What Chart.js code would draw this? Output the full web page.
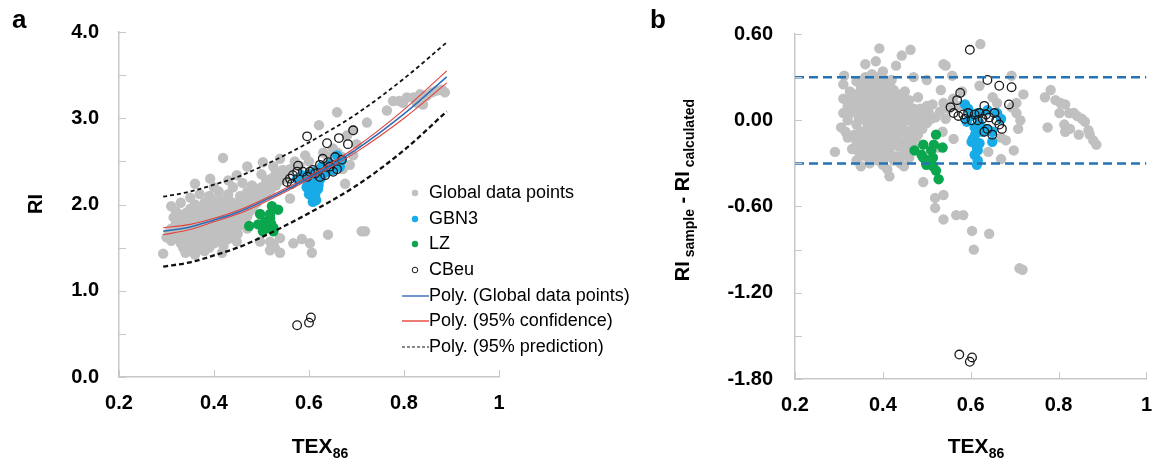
<!DOCTYPE html>
<html>
<head>
<meta charset="utf-8">
<script src="https://cdn.jsdelivr.net/npm/chart.js@4.4.0/dist/chart.umd.min.js"></script>
<style>
	body { margin: 0; background: #fff; width: 1166px; height: 463px; overflow: hidden; position: relative; font-family: "Liberation Sans", Arial, sans-serif; color: #000; }
	canvas { position: absolute; top: 0; }
	.txt { position: absolute; font-weight: bold; white-space: nowrap; line-height: 1; }
	.center { transform: translate(-50%, -50%); }
	.rot { transform: translate(-50%, -50%) rotate(-90deg); }
	.sub { font-size: 14px; vertical-align: -5px; }
	#legend { position: absolute; left: 401px; top: 180px; font-size: 18px; line-height: 25.7px; }
	#legend div { display: flex; align-items: center; height: 25.7px; }
	#legend svg { width: 28px; height: 12px; margin-right: 0; }
</style>
</head>
<body>
<canvas id="chartA" width="583" height="463" style="left:0"></canvas>
<canvas id="chartB" width="583" height="463" style="left:583px"></canvas>

<div class="txt" style="left:12px;top:6px;font-size:26px">a</div>
<div class="txt" style="left:650px;top:6px;font-size:26px">b</div>
<div class="txt rot" style="left:35px;top:204px;font-size:20px">RI</div>
<div class="txt center" style="left:320px;top:447px;font-size:21px">TEX<span class="sub">86</span></div>
<div class="txt rot" style="left:684px;top:190px;font-size:20px">RI<span class="sub"> sample</span> - RI<span class="sub"> calculated</span></div>
<div class="txt center" style="left:976px;top:447px;font-size:21px">TEX<span class="sub">86</span></div>

<div id="legend"></div>

<script>
'use strict'

// panel a : RI against TEX86
const globalA = [
	[0.293,1.43],[0.30,1.62],[0.305,1.68],[0.31,1.58],[0.31,1.72],[0.31,1.98],[0.315,1.85],[0.32,1.65],[0.32,1.78],[0.32,1.92],[0.325,1.60],[0.325,1.72],
	[0.33,1.55],[0.33,1.70],[0.33,1.85],[0.33,2.02],[0.335,1.50],[0.335,1.78],
	[0.34,1.44],[0.34,1.62],[0.34,1.75],[0.34,1.90],[0.345,1.56],[0.345,1.69],[0.345,1.83],
	[0.35,1.46],[0.35,1.58],[0.35,1.68],[0.35,1.80],[0.35,1.95],[0.35,2.08],[0.355,1.62],[0.355,1.74],[0.355,1.88],[0.356,1.46],
	[0.36,1.42],[0.36,1.52],[0.36,1.64],[0.36,1.74],[0.36,1.86],[0.36,2.00],[0.36,2.24],[0.365,1.58],[0.365,1.70],[0.365,1.80],[0.365,1.95],
	[0.37,1.48],[0.37,1.60],[0.37,1.70],[0.37,1.82],[0.37,1.93],[0.37,2.12],[0.375,1.54],[0.375,1.65],[0.375,1.77],[0.375,1.88],[0.377,1.50],
	[0.38,1.46],[0.38,1.56],[0.38,1.66],[0.38,1.76],[0.38,1.88],[0.38,2.02],[0.385,1.60],[0.385,1.71],[0.385,1.82],[0.385,1.94],
	[0.39,1.50],[0.39,1.62],[0.39,1.72],[0.39,1.84],[0.39,1.96],[0.39,2.10],[0.392,2.30],[0.395,1.58],[0.395,1.67],[0.395,1.78],[0.395,1.90],[0.395,2.02],
	[0.40,1.55],[0.40,1.68],[0.40,1.78],[0.40,1.90],[0.40,2.05],[0.40,2.20],[0.405,1.62],[0.405,1.73],[0.405,1.84],[0.405,1.96],
	[0.41,1.60],[0.41,1.74],[0.41,1.85],[0.41,1.98],[0.41,2.15],[0.415,1.68],[0.415,1.79],[0.415,1.91],[0.415,2.05],[0.417,1.44],[0.419,2.54],
	[0.42,1.52],[0.42,1.64],[0.42,1.80],[0.42,1.92],[0.42,2.04],[0.425,1.73],[0.425,1.86],[0.425,1.99],
	[0.43,1.60],[0.43,1.70],[0.43,1.84],[0.43,1.96],[0.43,2.12],[0.43,2.28],[0.435,1.76],[0.435,1.89],[0.435,2.03],
	[0.44,1.66],[0.44,1.78],[0.44,1.90],[0.44,2.02],[0.44,2.20],[0.445,1.84],[0.445,1.96],[0.448,1.57],[0.448,2.34],
	[0.45,1.66],[0.45,1.74],[0.45,1.86],[0.45,1.98],[0.455,1.80],[0.455,1.92],[0.455,2.10],
	[0.46,1.80],[0.46,1.92],[0.46,2.06],[0.46,2.25],[0.465,1.86],[0.465,1.99],[0.47,1.72],[0.47,1.86],[0.47,2.00],[0.47,2.15],[0.47,2.44],[0.475,1.92],[0.475,2.06],
	[0.48,1.95],[0.48,2.10],[0.48,2.22],[0.485,2.00],[0.49,2.02],[0.49,2.16],[0.495,2.10],[0.497,1.57],
	[0.50,2.08],[0.50,2.20],[0.50,2.35],[0.503,2.49],[0.505,2.15],[0.51,2.12],[0.51,2.28],[0.515,2.22],[0.518,1.47],[0.518,1.57],[0.52,2.18],[0.52,2.30],
	[0.525,1.54],[0.525,2.44],[0.528,1.50],[0.53,2.22],[0.53,2.36],[0.535,2.32],
	[0.539,1.44],[0.539,1.61],[0.539,2.53],[0.54,2.28],[0.545,2.40],[0.55,2.30],[0.55,2.38],[0.56,2.07],[0.56,2.41],[0.567,1.55],[0.57,2.50],[0.585,1.60],[0.58,2.45],[0.58,2.30],[0.592,2.57],[0.60,2.50],
	[0.602,1.55],[0.606,1.44],[0.62,2.40],[0.621,2.92],[0.63,2.60],[0.64,1.65],[0.64,2.45],[0.64,2.55],[0.65,2.65],[0.659,3.07],[0.66,2.50],[0.66,2.60],[0.67,2.55],[0.671,2.41],[0.676,2.24],
	[0.68,2.80],[0.686,2.46],[0.693,2.57],[0.693,2.86],[0.70,2.70],[0.711,1.69],[0.718,1.69],[0.722,2.95],
	[0.764,3.09],[0.777,3.20],[0.79,3.20],[0.798,3.18],[0.806,3.24],[0.82,3.24],[0.827,3.18],[0.834,3.28],[0.84,3.16],[0.848,3.26],[0.859,3.30],[0.869,3.32],[0.88,3.33],[0.886,3.30]
];
const gbn3A = [
	[0.575,2.30],[0.585,2.34],[0.595,2.20],[0.596,2.32],[0.598,2.26],[0.60,2.12],[0.60,2.36],[0.602,2.21],[0.605,2.28],[0.606,2.15],[0.606,2.34],[0.608,2.23],[0.608,2.03],[0.608,2.08],
	[0.613,2.11],[0.613,2.30],[0.613,2.38],[0.615,2.05],[0.617,2.26],[0.619,2.18],[0.62,2.22],[0.623,2.29],[0.627,2.44],[0.63,2.35],[0.638,2.38],[0.644,2.47],[0.65,2.40],
	[0.659,2.57],[0.665,2.44],[0.669,2.52]
];
const lzA = [
	[0.474,1.75],[0.493,1.77],[0.497,1.89],[0.503,1.69],[0.507,1.80],[0.507,1.73],[0.512,1.73],[0.518,1.84],[0.518,1.89],[0.52,1.78],[0.522,1.98],[0.525,1.73],[0.525,1.69],[0.535,1.94]
];
const cbeuA = [
	[0.554,2.26],[0.56,2.30],[0.564,2.24],[0.566,2.34],[0.575,2.38],[0.577,2.45],[0.587,2.38],[0.596,2.32],[0.602,2.38],[0.608,2.40],[0.613,2.36],[0.623,2.46],[0.623,2.32],[0.629,2.53],
	[0.634,2.34],[0.64,2.49],[0.644,2.44],[0.651,2.38],[0.655,2.55],[0.659,2.41],[0.669,2.52],[0.596,2.79],[0.638,2.71],[0.663,2.77],[0.682,2.70],[0.693,2.86],
	[0.575,0.60],[0.600,0.63],[0.604,0.69]
];

// fitted curves
const fitTex = [0.293, 0.35, 0.40, 0.45, 0.50, 0.60, 0.70, 0.80, 0.89];
const fitRI = [1.69, 1.74, 1.82, 1.91, 2.03, 2.31, 2.64, 3.05, 3.48];
const confHi = [1.73, 1.77, 1.84, 1.93, 2.05, 2.33, 2.67, 3.10, 3.55];
const confLo = [1.65, 1.71, 1.80, 1.89, 2.01, 2.29, 2.61, 3.00, 3.41];
const predHi = [2.09, 2.15, 2.23, 2.32, 2.44, 2.72, 3.05, 3.46, 3.88];
const predLo = [1.28, 1.33, 1.41, 1.50, 1.62, 1.90, 2.22, 2.63, 3.08];

// panel b : residual RI sample - RI calculated
const globalB = [
	[0.291,-0.22],[0.305,-0.05],[0.31,0.05],[0.31,0.15],[0.31,0.25],[0.312,0.31],[0.315,-0.08],[0.32,-0.12],[0.32,0.0],[0.32,0.10],[0.325,0.20],[0.325,0.05],
	[0.33,-0.20],[0.33,0.14],[0.335,-0.10],
	[0.34,-0.28],[0.34,-0.15],[0.34,-0.03],[0.34,0.08],[0.34,0.18],[0.34,0.27],[0.345,0.02],[0.345,0.13],[0.345,-0.22],
	[0.35,-0.32],[0.35,-0.20],[0.35,-0.08],[0.35,0.03],[0.35,0.12],[0.35,0.22],[0.355,-0.14],[0.355,0.07],[0.355,0.17],[0.355,0.28],
	[0.36,-0.25],[0.36,-0.12],[0.36,0.0],[0.36,0.10],[0.36,0.20],[0.36,0.30],[0.36,0.39],[0.365,-0.20],[0.365,-0.05],[0.365,0.05],[0.365,0.15],[0.365,0.24],
	[0.37,-0.30],[0.37,-0.18],[0.37,-0.06],[0.37,0.06],[0.37,0.16],[0.37,0.26],[0.375,-0.24],[0.375,-0.12],[0.375,0.0],[0.375,0.10],[0.375,0.20],[0.375,0.32],
	[0.38,-0.22],[0.38,-0.10],[0.38,0.02],[0.38,0.13],[0.38,0.23],[0.384,0.41],[0.385,-0.18],[0.385,-0.05],[0.385,0.07],[0.385,0.18],[0.385,0.30],
	[0.39,-0.28],[0.39,-0.15],[0.39,-0.04],[0.39,0.08],[0.39,0.18],[0.39,0.28],[0.392,0.50],[0.395,-0.22],[0.395,-0.10],[0.395,0.02],[0.395,0.13],[0.395,0.23],
	[0.40,-0.31],[0.40,-0.20],[0.40,-0.08],[0.40,0.04],[0.40,0.14],[0.40,0.24],[0.40,0.34],[0.405,-0.26],[0.405,-0.14],[0.405,-0.02],[0.405,0.09],[0.405,0.19],[0.405,0.28],
	[0.41,-0.34],[0.41,-0.25],[0.41,-0.12],[0.41,0.0],[0.41,0.10],[0.41,0.20],[0.415,-0.39],[0.415,-0.20],[0.415,-0.06],[0.415,0.05],[0.415,0.15],[0.415,0.25],
	[0.42,-0.18],[0.42,-0.05],[0.42,0.06],[0.42,0.16],[0.42,0.28],[0.425,-0.28],[0.425,-0.13],[0.425,0.0],[0.425,0.10],[0.425,0.21],
	[0.43,-0.25],[0.43,-0.10],[0.43,0.02],[0.43,0.12],[0.43,0.38],[0.435,-0.18],[0.435,-0.05],[0.435,0.07],[0.435,0.18],
	[0.44,-0.30],[0.44,-0.15],[0.44,-0.02],[0.44,0.10],[0.443,0.45],[0.445,-0.24],[0.445,-0.08],[0.445,0.04],[0.445,0.16],[0.448,-0.32],
	[0.45,-0.20],[0.45,-0.07],[0.45,0.05],[0.45,0.20],[0.455,-0.14],[0.455,0.0],[0.455,0.10],
	[0.46,-0.26],[0.46,-0.12],[0.46,0.0],[0.46,0.14],[0.463,0.49],[0.465,-0.20],[0.465,-0.08],[0.465,0.05],
	[0.47,-0.18],[0.47,-0.04],[0.47,0.08],[0.47,0.30],[0.475,-0.12],[0.475,0.01],[0.48,-0.10],[0.48,0.02],[0.48,0.16],[0.485,-0.04],[0.485,0.08],
	[0.49,-0.06],[0.49,0.05],[0.492,-0.43],[0.495,0.0],[0.50,-0.02],[0.50,0.10],[0.50,0.28],[0.505,0.05],
	[0.51,0.01],[0.513,0.11],[0.52,0.02],[0.525,-0.19],[0.53,0.06],[0.532,0.21],[0.536,-0.08],[0.538,0.12],[0.538,0.39],[0.543,0.01],[0.543,0.38],[0.558,0.31],[0.561,-0.13],
	[0.55,0.08],[0.56,0.15],[0.57,0.10],[0.58,0.20],
	[0.519,-0.54],[0.519,-0.61],[0.538,-0.52],[0.538,-0.69],[0.567,-0.66],[0.583,-0.66],[0.603,-0.77],[0.642,-0.79],[0.607,-0.90],[0.711,-1.03],[0.718,-1.04],
	[0.62,0.24],[0.622,0.53],[0.65,0.16],[0.66,0.12],[0.64,-0.22],[0.669,-0.12],[0.669,-0.27],[0.68,-0.14],[0.693,0.31],[0.693,0.09],[0.698,-0.21],
	[0.704,0.05],[0.704,0.12],[0.708,-0.06],[0.713,0.0],[0.72,0.18],
	[0.769,0.16],[0.775,-0.05],[0.782,0.21],[0.793,0.14],[0.802,0.05],[0.804,0.12],[0.813,-0.03],[0.815,0.11],[0.815,-0.08],[0.824,0.05],[0.826,-0.06],
	[0.835,0.05],[0.842,0.03],[0.846,-0.10],[0.853,0.01],[0.86,-0.01],[0.868,-0.07],[0.871,-0.10],[0.879,-0.14],[0.886,-0.17]
];
const gbn3B = [
	[0.587,0.11],[0.594,0.08],[0.591,-0.01],[0.602,0.03],[0.609,-0.05],[0.605,-0.13],[0.602,-0.15],[0.61,-0.10],[0.614,-0.19],[0.616,-0.21],[0.609,-0.24],
	[0.616,-0.28],[0.614,-0.31],[0.62,-0.16],[0.62,-0.02],[0.616,0.05],[0.627,-0.08],[0.635,-0.06],[0.638,0.07],[0.649,-0.08],[0.649,-0.15],[0.66,0.05],[0.669,0.01]
];
const lzB = [
	[0.472,-0.21],[0.488,-0.24],[0.492,-0.17],[0.492,-0.26],[0.499,-0.31],[0.503,-0.28],[0.51,-0.21],[0.514,-0.26],[0.514,-0.32],[0.516,-0.17],[0.521,-0.10],[0.521,-0.35],[0.527,-0.41],[0.536,-0.19]
];
const cbeuB = [
	[0.554,0.09],[0.561,0.05],[0.569,0.14],[0.572,0.03],[0.576,0.19],[0.583,0.04],[0.587,0.01],[0.594,0.05],[0.602,0.0],[0.609,0.04],[0.616,0.0],[0.62,0.05],
	[0.627,0.01],[0.631,0.10],[0.631,-0.08],[0.635,0.04],[0.638,-0.06],[0.642,0.02],[0.649,-0.10],[0.654,0.05],[0.658,0.0],[0.665,-0.03],[0.671,-0.06],[0.687,0.11],
	[0.638,0.28],[0.665,0.24],[0.693,0.23],[0.598,0.49],
	[0.574,-1.63],[0.603,-1.65],[0.598,-1.68]
];
const limitTex = [0.2, 1.0];
const limitHi = 0.30;
const limitLo = -0.30;

const colors = {
	gray: '#c0c0c0',
	blue: '#17abe8',
	green: '#0ba64e',
	open: '#1a1a1a',
	fit: '#2b6cb8',
	conf: '#e2423d',
	pred: '#111111',
	limit: '#2573b4',
	axis: '#c8c8c8',
};

Chart.defaults.font.family = '"Liberation Sans", Arial, sans-serif';
Chart.defaults.color = '#000';

const toXY = pts => pts.map(p => ({ x: p[0], y: p[1] }));
const curve = (xs, ys) => xs.map((x, i) => ({ x: x, y: ys[i] }));

function dots(label, pts, color, order) {
	return { label: label, data: toXY(pts), backgroundColor: color, borderWidth: 0, pointRadius: 5.2, pointHoverRadius: 5.2, order: order };
}
function openDots(label, pts, order) {
	return { label: label, data: toXY(pts), backgroundColor: 'rgba(255,255,255,0)', borderColor: colors.open, borderWidth: 1.3, pointRadius: 4.3, order: order };
}
function line(label, data, color, width, dash, order) {
	return { type: 'line', label: label, data: data, borderColor: color, borderWidth: width, borderDash: dash, pointRadius: 0, fill: false, cubicInterpolationMode: 'monotone', order: order };
}

// Excel style tick marks pointing into the plot
const innerTicks = {
	id: 'innerTicks',
	afterDraw(chart) {
		const c = chart.ctx, a = chart.chartArea;
		const x = chart.scales.x, y = chart.scales.y;
		c.save();
		c.strokeStyle = colors.axis;
		c.lineWidth = 1;
		x.ticks.forEach(t => {
			const px = Math.round(x.getPixelForValue(t.value)) + 0.5;
			c.beginPath(); c.moveTo(px, a.bottom); c.lineTo(px, a.bottom - 7); c.stroke();
		});
		y.ticks.forEach(t => {
			const py = Math.round(y.getPixelForValue(t.value)) + 0.5;
			c.beginPath(); c.moveTo(a.left, py); c.lineTo(a.left + 7, py); c.stroke();
		});
		c.restore();
	}
};

function makeOptions(o) {
	return {
		responsive: false,
		animation: false,
		events: [],
		layout: { padding: { top: o.top, right: o.right, left: 0, bottom: 0 } },
		plugins: { legend: { display: false }, tooltip: { enabled: false } },
		scales: {
			x: {
				type: 'linear', min: 0.2, max: 1.0,
				afterFit: s => { s.height = o.xHeight; },
				grid: { drawOnChartArea: false, drawTicks: false },
				border: { color: colors.axis, width: 1.5 },
				ticks: {
					stepSize: 0.2, padding: 14,
					font: { size: 20, weight: 'bold' },
					callback: v => Math.abs(v - 1) < 1e-6 ? '1' : v.toFixed(1),
				},
			},
			y: {
				type: 'linear', min: o.yMin, max: o.yMax,
				afterFit: s => { s.width = o.yWidth; },
				grid: { drawOnChartArea: false, drawTicks: false },
				border: { color: colors.axis, width: 1.5 },
				ticks: {
					stepSize: o.yStep, padding: o.yPad,
					font: { size: 20, weight: 'bold' },
					callback: o.yLabel,
				},
			},
		},
	};
}

new Chart(document.getElementById('chartA'), {
	type: 'scatter',
	data: {
		datasets: [
			line('Poly. (Global data points)', curve(fitTex, fitRI), colors.fit, 1.5, [], 0),
			line('95% confidence upper', curve(fitTex, confHi), colors.conf, 1.1, [], 1),
			line('95% confidence lower', curve(fitTex, confLo), colors.conf, 1.1, [], 1),
			line('95% prediction upper', curve(fitTex, predHi), colors.pred, 1.8, [4, 3], 1),
			line('95% prediction lower', curve(fitTex, predLo), colors.pred, 2.3, [5, 3], 1),
			openDots('CBeu', cbeuA, 2),
			dots('LZ', lzA, colors.green, 3),
			dots('GBN3', gbn3A, colors.blue, 4),
			dots('Global data points', globalA, colors.gray, 5),
		],
	},
	options: makeOptions({
		top: 29, right: 84, xHeight: 86, yWidth: 119, yPad: 20,
		yMin: 0, yMax: 4, yStep: 0.5,
		yLabel: v => Math.abs(v - Math.round(v)) < 1e-6 ? v.toFixed(1) : '',
	}),
	plugins: [innerTicks],
});

new Chart(document.getElementById('chartB'), {
	type: 'scatter',
	data: {
		datasets: [
			line('upper limit', curve(limitTex, [limitHi, limitHi]), colors.limit, 2.5, [9, 5], 0),
			line('lower limit', curve(limitTex, [limitLo, limitLo]), colors.limit, 2.5, [9, 5], 0),
			openDots('CBeu', cbeuB, 2),
			dots('LZ', lzB, colors.green, 3),
			dots('GBN3', gbn3B, colors.blue, 4),
			dots('Global data points', globalB, colors.gray, 5),
		],
	},
	options: makeOptions({
		top: 31, right: 9, xHeight: 84, yWidth: 212, yPad: 22,
		yMin: -1.8, yMax: 0.6, yStep: 0.3,
		yLabel: v => Math.round(v / 0.3) % 2 === 0 ? (Math.abs(v) < 1e-6 ? 0 : v).toFixed(2) : '',
	}),
	plugins: [innerTicks],
});

// legend of panel a
const legendItems = [
	{ text: 'Global data points', kind: 'dot', color: colors.gray },
	{ text: 'GBN3', kind: 'dot', color: colors.blue },
	{ text: 'LZ', kind: 'dot', color: colors.green },
	{ text: 'CBeu', kind: 'open', color: colors.open },
	{ text: 'Poly. (Global data points)', kind: 'line', color: colors.fit },
	{ text: 'Poly. (95% confidence)', kind: 'line', color: colors.conf },
	{ text: 'Poly. (95% prediction)', kind: 'dash', color: colors.pred },
];
let html = '';
legendItems.forEach(it => {
	let mark = '';
	if (it.kind === 'dot') mark = '<circle cx="14" cy="6" r="3.2" fill="' + it.color + '"/>';
	if (it.kind === 'open') mark = '<circle cx="14" cy="6" r="2.8" fill="none" stroke="' + it.color + '" stroke-width="1"/>';
	if (it.kind === 'line') mark = '<line x1="1" y1="6" x2="28" y2="6" stroke="' + it.color + '" stroke-width="1.4"/>';
	if (it.kind === 'dash') mark = '<line x1="1" y1="6" x2="28" y2="6" stroke="' + it.color + '" stroke-width="1.2" stroke-dasharray="3,2"/>';
	html += '<div><svg viewBox="0 0 28 12">' + mark + '</svg><span>' + it.text + '</span></div>';
});
document.getElementById('legend').innerHTML = html;
</script>
</body>
</html>
